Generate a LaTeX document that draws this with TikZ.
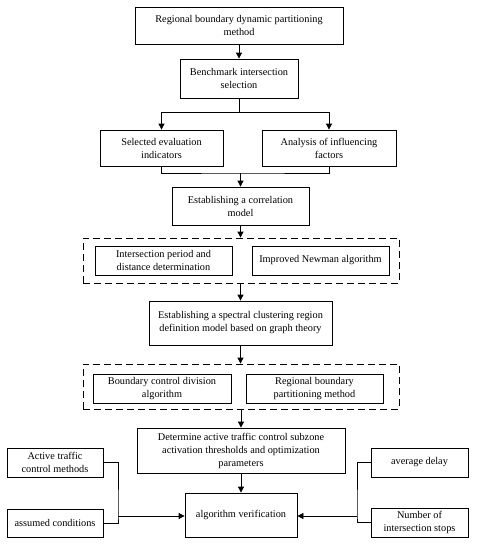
\documentclass[tikz,border=0pt]{standalone}
\usepackage{fontspec}
\setmainfont{Liberation Serif}
\usetikzlibrary{arrows.meta}
\begin{document}
\begin{tikzpicture}[x=1pt,y=-1pt,
  box/.style={draw,line width=0.8pt,inner sep=0pt,align=center,font=\fontsize{10.3}{13}\selectfont},
  dbox/.style={draw,line width=0.8pt,dash pattern=on 7pt off 4pt,inner sep=0pt},
  conn/.style={line width=0.8pt},
  arr/.style={conn,-{Triangle[length=6pt,width=6pt]}}]
\useasboundingbox (0,0) rectangle (479,550);
\node[box,minimum width=208pt,minimum height=37pt] (b1) at (239,25.5) {Regional boundary dynamic partitioning\\method};
\node[box,minimum width=118pt,minimum height=39pt] (b2) at (239,78.5) {Benchmark intersection\\selection};
\node[box,minimum width=123pt,minimum height=36pt] (b3) at (161.5,148) {Selected evaluation\\indicators};
\node[box,minimum width=134pt,minimum height=36pt] (b4) at (329,148) {Analysis of influencing\\factors};
\node[box,minimum width=137pt,minimum height=38pt] (b5) at (240.5,206) {Establishing a correlation\\model};
\node[dbox,minimum width=316pt,minimum height=45pt] (d1) at (241,260.5) {};
\node[box,minimum width=137pt,minimum height=29pt] (i1) at (163.5,260.5) {Intersection period and\\distance determination};
\node[box,minimum width=137pt,minimum height=29pt] (i2) at (320.5,260.5) {Improved Newman algorithm};
\node[box,minimum width=183pt,minimum height=44pt] (b6) at (240.5,323) {Establishing a spectral clustering region\\definition model based on graph theory};
\node[dbox,minimum width=316pt,minimum height=45pt] (d2) at (241,386.5) {};
\node[box,minimum width=138pt,minimum height=29pt] (i3) at (162,388.5) {Boundary control division\\algorithm};
\node[box,minimum width=137pt,minimum height=29pt] (i4) at (314.5,388.5) {Regional boundary\\partitioning method};
\node[box,minimum width=208pt,minimum height=45pt] (b7) at (241,450.5) {Determine active traffic control subzone\\activation thresholds and optimization\\parameters};
\node[box,minimum width=112pt,minimum height=44pt] (b8) at (241,515) {algorithm verification};
\node[box,minimum width=96pt,minimum height=29pt] (l1) at (55,462.5) {Active traffic\\control methods};
\node[box,minimum width=96pt,minimum height=28pt] (l2) at (55,523) {assumed conditions};
\node[box,minimum width=97pt,minimum height=29pt] (r1) at (419.5,462.5) {average delay};
\node[box,minimum width=97pt,minimum height=29pt] (r2) at (419.5,522.5) {Number of\\intersection stops};
\coordinate (s1) at (239,112);
\coordinate (m1) at (240.5,173);
\coordinate (lj) at (118,516);
\coordinate (rj) at (357,516);
\draw[arr] (b1.south) -- (b2.north);
\draw[conn] (b2.south) -- (s1);
\draw[arr] (s1) -| (b3.north);
\draw[arr] (s1) -| (b4.north);
\draw[conn] (b3.south) |- (m1) -| (b4.south);
\draw[arr] (m1) -- (b5.north);
\draw[arr] (b5.south) -- (d1.north -| b5.south);
\draw[arr] (d1.south -| b6.north) -- (b6.north);
\draw[arr] (b6.south) -- (d2.north -| b6.south);
\draw[arr] (d2.south -| b7.north) -- (b7.north);
\draw[arr] (b7.south) -- (b8.north);
\draw[conn] (l1.east) -| (lj) |- (l2.east);
\draw[arr] (lj) -- (b8.west |- lj);
\draw[conn] (r1.west) -| (rj) |- (r2.west);
\draw[arr] (rj) -- (b8.east |- rj);
\end{tikzpicture}
\end{document}
